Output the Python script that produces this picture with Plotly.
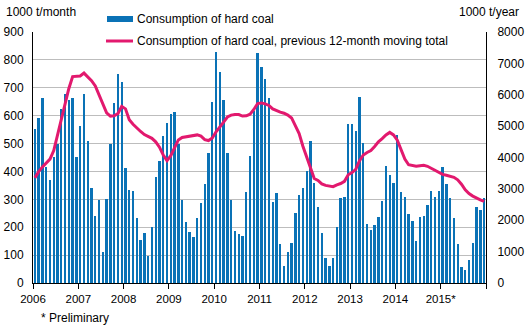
import plotly.graph_objects as go

years = ["2006", "2007", "2008", "2009", "2010", "2011", "2012", "2013", "2014", "2015*"]

# Monthly consumption of hard coal, 1000 t/month
bars_2006 = [552, 590, 662, 417, 369, 452, 500, 625, 679, 655, 662, 452]
bars_2007 = [562, 676, 510, 340, 240, 298, 112, 300, 500, 644, 748, 719]
bars_2008 = [412, 333, 329, 233, 155, 181, 98, 200, 381, 437, 527, 575]
bars_2009 = [606, 612, 500, 298, 219, 183, 164, 233, 286, 356, 467, 650]
bars_2010 = [830, 758, 656, 467, 298, 188, 176, 167, 326, 455, 617, 826]
bars_2011 = [776, 733, 662, 290, 321, 140, 62, 110, 145, 252, 314, 340]
bars_2012 = [400, 510, 358, 271, 181, 88, 62, 88, 202, 305, 310, 569]
bars_2013 = [569, 545, 667, 502, 212, 190, 209, 238, 295, 419, 388, 358]
bars_2014 = [531, 326, 308, 247, 222, 152, 237, 240, 280, 329, 308, 329]
bars_2015 = [417, 355, 305, 233, 140, 59, 47, 82, 145, 273, 262, 305]

# Previous 12-month moving total, 1000 t/year
mt_2006 = [3350, 3550, 3700, 3820, 3950, 4220, 4700, 5200, 5700, 6200, 6580, 6600]
mt_2007 = [6600, 6690, 6560, 6450, 6280, 6000, 5680, 5420, 5320, 5330, 5400, 5630]
mt_2008 = [5550, 5200, 5060, 4930, 4830, 4730, 4660, 4610, 4500, 4330, 4080, 3900]
mt_2009 = [4060, 4330, 4560, 4640, 4660, 4675, 4690, 4720, 4680, 4570, 4540, 4620]
mt_2010 = [4820, 4960, 5130, 5290, 5350, 5370, 5370, 5320, 5330, 5380, 5530, 5720]
mt_2011 = [5740, 5710, 5660, 5550, 5490, 5445, 5410, 5350, 5260, 5010, 4760, 4360]
mt_2012 = [4000, 3640, 3330, 3270, 3160, 3110, 3080, 3070, 3130, 3170, 3240, 3450]
mt_2013 = [3520, 3620, 3900, 4080, 4160, 4220, 4350, 4500, 4600, 4720, 4800, 4720]
mt_2014 = [4550, 4250, 3950, 3770, 3750, 3720, 3740, 3750, 3720, 3660, 3580, 3540]
mt_2015 = [3460, 3432, 3410, 3370, 3290, 3150, 2970, 2850, 2770, 2700, 2650, 2600]

bars = (bars_2006 + bars_2007 + bars_2008 + bars_2009 + bars_2010 +
        bars_2011 + bars_2012 + bars_2013 + bars_2014 + bars_2015)
moving = (mt_2006 + mt_2007 + mt_2008 + mt_2009 + mt_2010 +
          mt_2011 + mt_2012 + mt_2013 + mt_2014 + mt_2015)
idx = list(range(len(bars)))

BLUE = "#0a72b6"
PINK = "#e2196e"
FONT = "Liberation Sans, Arial, sans-serif"

fig = go.Figure()
fig.add_trace(go.Bar(x=idx, y=bars, marker=dict(color=BLUE, line=dict(width=0)),
                     width=0.62, name="Consumption of hard coal", showlegend=False))
fig.add_trace(go.Scatter(x=idx, y=moving, yaxis="y2", mode="lines",
                         line=dict(color=PINK, width=3, shape="linear"),
                         name="Consumption of hard coal, previous 12-month moving total",
                         showlegend=False))

tickvals = [-0.5 + 12 * i for i in range(11)]
ticktext = years + [""]

fig.update_layout(
    width=526, height=329,
    margin=dict(l=33, r=40, t=32, b=46, autoexpand=False),
    paper_bgcolor="white", plot_bgcolor="white",
    font=dict(family=FONT, size=12, color="#000000"),
    bargap=0,
    xaxis=dict(range=[-0.5, 119.5], tickvals=tickvals, ticktext=ticktext,
               ticks="outside", ticklen=5, tickcolor="#000", tickwidth=1,
               showline=True, linecolor="#000", linewidth=1, showgrid=False,
               zeroline=False, tickfont=dict(size=11.5), ticklabelstandoff=0,
               automargin=False),
    yaxis=dict(range=[0, 900], dtick=100, showline=True, linecolor="#000",
               linewidth=1, showgrid=True, gridcolor="#bdbdbd", gridwidth=1,
               zeroline=False, ticks="", tickfont=dict(size=12),
               ticklabelstandoff=6, automargin=False),
    yaxis2=dict(range=[0, 8000], dtick=1000, overlaying="y", side="right",
                showline=True, linecolor="#000", linewidth=1, showgrid=False,
                zeroline=False, ticks="", tickfont=dict(size=12),
                ticklabelstandoff=8, automargin=False),
)

W = 453.0
H = 251.0
def px(x):
    return (x - 33) / W
def py(y):
    return (283 - y) / H

annotations = [
    dict(text="1000 t/month", x=px(4), y=py(12), xanchor="left", yanchor="middle"),
    dict(text="1000 t/year", x=px(521), y=py(12), xanchor="right", yanchor="middle"),
    dict(text="* Preliminary", x=px(39), y=py(318), xanchor="left", yanchor="middle"),
    dict(text="Consumption of hard coal", x=px(135), y=py(19), xanchor="left", yanchor="middle"),
    dict(text="Consumption of hard coal, previous 12-month moving total", x=px(135), y=py(41),
         xanchor="left", yanchor="middle"),
]
for a in annotations:
    a.update(xref="paper", yref="paper", showarrow=False,
             font=dict(family=FONT, size=12, color="#000"))
fig.update_layout(annotations=annotations)

fig.add_shape(type="rect", xref="paper", yref="paper",
              x0=px(107), x1=px(133), y0=py(22), y1=py(16),
              fillcolor=BLUE, line=dict(width=0))
fig.add_shape(type="line", xref="paper", yref="paper",
              x0=px(106), x1=px(133), y0=py(41), y1=py(41),
              line=dict(color=PINK, width=3))

fig.write_html("out.html")
